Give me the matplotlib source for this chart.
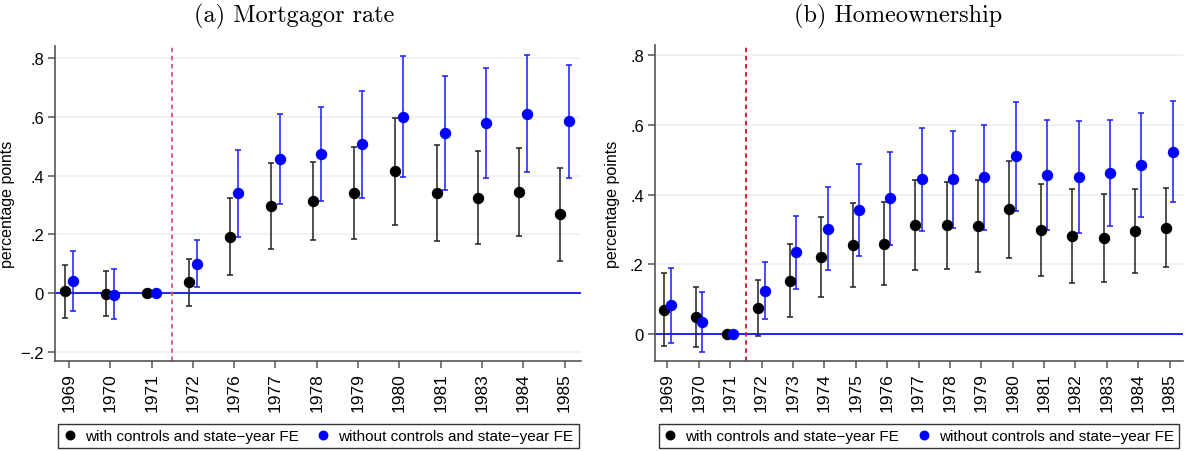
import numpy as np
import matplotlib
matplotlib.use("Agg")
import matplotlib.pyplot as plt

plt.rcParams["font.family"] = ["Liberation Sans", "DejaVu Sans"]

# panel (a) mortgagor rate
years_a = ["1969", "1970", "1971", "1972", "1976", "1977", "1978",
           "1979", "1980", "1981", "1983", "1984", "1985"]
ctrl_a = [0.006, -0.003, 0.0, 0.036, 0.192, 0.295, 0.315, 0.341, 0.415, 0.341, 0.325, 0.345, 0.268]
ctrl_a_lo = [-0.086, -0.080, 0.0, -0.043, 0.060, 0.150, 0.181, 0.184, 0.232, 0.176, 0.167, 0.194, 0.108]
ctrl_a_hi = [0.097, 0.076, 0.0, 0.117, 0.323, 0.442, 0.448, 0.497, 0.598, 0.506, 0.483, 0.493, 0.426]
noctrl_a = [0.042, -0.006, 0.0, 0.099, 0.340, 0.457, 0.474, 0.507, 0.601, 0.544, 0.580, 0.611, 0.585]
noctrl_a_lo = [-0.060, -0.089, 0.0, 0.019, 0.191, 0.303, 0.314, 0.325, 0.397, 0.351, 0.391, 0.411, 0.392]
noctrl_a_hi = [0.144, 0.081, 0.0, 0.181, 0.488, 0.611, 0.635, 0.690, 0.807, 0.740, 0.768, 0.810, 0.777]

# panel (b) homeownership
years_b = ["1969", "1970", "1971", "1972", "1973", "1974", "1975", "1976", "1977",
           "1978", "1979", "1980", "1981", "1982", "1983", "1984", "1985"]
ctrl_b = [0.069, 0.048, 0.0, 0.075, 0.152, 0.220, 0.254, 0.259, 0.312,
          0.312, 0.309, 0.358, 0.298, 0.281, 0.275, 0.296, 0.305]
ctrl_b_lo = [-0.034, -0.039, 0.0, -0.005, 0.048, 0.107, 0.135, 0.141, 0.182,
             0.187, 0.178, 0.219, 0.165, 0.147, 0.149, 0.176, 0.193]
ctrl_b_hi = [0.174, 0.135, 0.0, 0.154, 0.259, 0.335, 0.376, 0.378, 0.442,
             0.437, 0.442, 0.496, 0.430, 0.415, 0.402, 0.416, 0.418]
noctrl_b = [0.083, 0.035, 0.0, 0.123, 0.234, 0.302, 0.357, 0.389, 0.444,
            0.444, 0.449, 0.510, 0.456, 0.450, 0.462, 0.485, 0.523]
noctrl_b_lo = [-0.025, -0.051, 0.0, 0.043, 0.130, 0.183, 0.225, 0.256, 0.295,
               0.304, 0.298, 0.353, 0.298, 0.290, 0.309, 0.336, 0.378]
noctrl_b_hi = [0.190, 0.121, 0.0, 0.206, 0.339, 0.422, 0.489, 0.521, 0.592,
               0.583, 0.600, 0.666, 0.615, 0.610, 0.614, 0.634, 0.669]

yticks_a = [-0.2, 0, 0.2, 0.4, 0.6, 0.8]
ylabels_a = ["\u2212.2", "0", ".2", ".4", ".6", ".8"]
yticks_b = [0, 0.2, 0.4, 0.6, 0.8]
ylabels_b = ["0", ".2", ".4", ".6", ".8"]

lab_ctrl = "with controls and state\u2212year FE"
lab_noctrl = "without controls and state\u2212year FE"

fig = plt.figure(figsize=(11.88, 4.52), dpi=100)
ax1 = fig.add_axes([0.0463, 0.199, 0.4428, 0.697])
ax2 = fig.add_axes([0.5513, 0.199, 0.4445, 0.699])


def draw_panel(ax, years, c, clo, chi, n, nlo, nhi, xlim, ylim, yt, yl, dash_col, lab_x):
    x = np.arange(len(years))
    c, clo, chi = np.array(c), np.array(clo), np.array(chi)
    n, nlo, nhi = np.array(n), np.array(nlo), np.array(nhi)
    for t in yt:
        ax.axhline(t, color="#eaf1f2", lw=1.2, zorder=0)
    ax.axhline(0, color="#0000ff", lw=1.2, zorder=1)
    ax.axvline(2.5, color=dash_col, lw=1.3, ls=(0, (2.5, 2.0)), zorder=1)
    ax.errorbar(x - 0.1, c, yerr=[c - clo, chi - c], fmt="none", ecolor="#222222",
                elinewidth=1.1, capsize=2.5, capthick=1.1, zorder=2)
    ax.errorbar(x + 0.1, n, yerr=[n - nlo, nhi - n], fmt="none", ecolor="#1a1aff",
                elinewidth=1.1, capsize=2.5, capthick=1.1, zorder=2)
    ax.plot(x - 0.1, c, "o", color="black", ms=7.2, zorder=3, label=lab_ctrl)
    ax.plot(x + 0.1, n, "o", color="#0000ff", ms=7.2, zorder=3, label=lab_noctrl)
    ax.set_xlim(*xlim)
    ax.set_ylim(*ylim)
    ax.set_xticks(x)
    ax.set_xticklabels(years, rotation=90, fontsize=12.5)
    ax.set_yticks(yt)
    ax.set_yticklabels(yl, fontsize=12)
    ax.set_ylabel("percentage points", fontsize=11.5)
    ax.yaxis.set_label_coords(lab_x, 0.5)
    for s in ["top", "right"]:
        ax.spines[s].set_visible(False)
    for s in ["left", "bottom"]:
        ax.spines[s].set_color("#555555")
        ax.spines[s].set_linewidth(1.2)
    ax.tick_params(direction="out", length=5, width=1.1, color="#555555", pad=3)


draw_panel(ax1, years_a, ctrl_a, ctrl_a_lo, ctrl_a_hi, noctrl_a, noctrl_a_lo, noctrl_a_hi,
           (-0.34, 12.4), (-0.232, 0.842), yticks_a, ylabels_a, "#d9587a", -0.076)
draw_panel(ax2, years_b, ctrl_b, ctrl_b_lo, ctrl_b_hi, noctrl_b, noctrl_b_lo, noctrl_b_hi,
           (-0.40, 16.43), (-0.078, 0.829), yticks_b, ylabels_b, "#cc1133", -0.066)

fig.text(0.248, 0.963, "(a) Mortgagor rate", family="cmr10", fontsize=17.5,
         ha="center", va="center")
fig.text(0.756, 0.963, "(b) Homeownership", family="cmr10", fontsize=17.5,
         ha="center", va="center")

for ax, cx in [(ax1, 0.268), (ax2, 0.7736)]:
    leg = ax.legend(loc="center", bbox_to_anchor=(cx, 0.033), bbox_transform=fig.transFigure,
                    ncol=2, fontsize=11, frameon=True, fancybox=False, markerscale=0.85,
                    handlelength=0.8, handletextpad=0.6, columnspacing=1.2,
                    borderpad=0.35, edgecolor="black")
    leg.get_frame().set_linewidth(1.0)

fig.savefig("out.png", dpi=100)
